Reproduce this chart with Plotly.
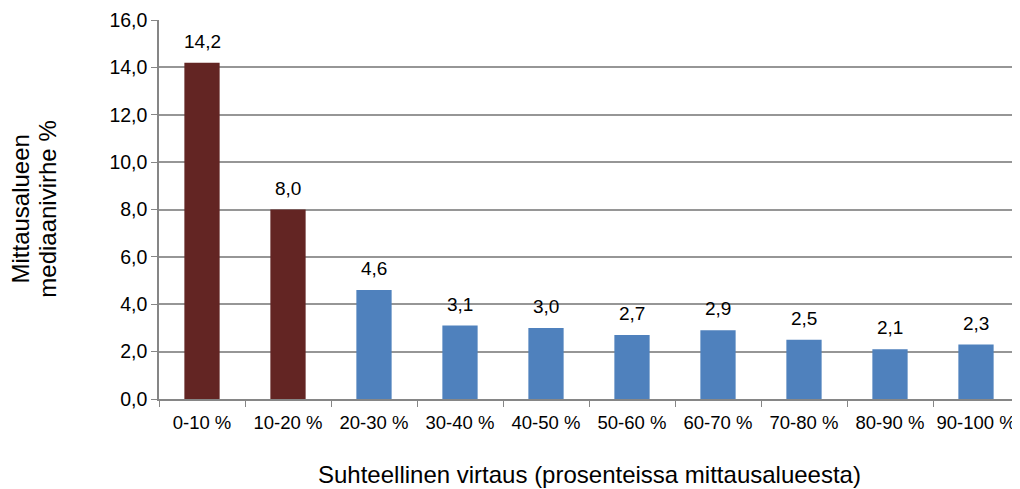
import plotly.graph_objects as go

categories = ["0-10 %", "10-20 %", "20-30 %", "30-40 %", "40-50 %",
              "50-60 %", "60-70 %", "70-80 %", "80-90 %", "90-100 %"]
values = [14.2, 8.0, 4.6, 3.1, 3.0, 2.7, 2.9, 2.5, 2.1, 2.3]
colors = ["#632523", "#632523"] + ["#4F81BD"] * 8
y_ticks = [0, 2, 4, 6, 8, 10, 12, 14, 16]

FONT = "Liberation Sans, Arial, sans-serif"

fig = go.Figure(go.Bar(
    x=categories, y=values, marker=dict(color=colors, line=dict(width=0)),
    width=0.41, hoverinfo="x+y",
))

for c, v in zip(categories, values):
    fig.add_annotation(x=c, y=v, text=f"{v:.1f}".replace(".", ","),
                       showarrow=False, yanchor="bottom", yshift=9,
                       font=dict(size=19, color="#000000", family=FONT))

fig.add_annotation(xref="paper", yref="paper", x=-0.1616, y=0.5,
                   text="Mittausalueen", textangle=-90,
                   showarrow=False, xanchor="center", yanchor="middle",
                   font=dict(size=24, color="#000000", family=FONT))
fig.add_annotation(xref="paper", yref="paper", x=-0.130, y=0.5,
                   text="mediaanivirhe %", textangle=-90,
                   showarrow=False, xanchor="center", yanchor="middle",
                   font=dict(size=24, color="#000000", family=FONT))
fig.add_annotation(xref="paper", yref="paper", x=0.5, y=-0.2005,
                   text="Suhteellinen virtaus (prosenteissa mittausalueesta)",
                   showarrow=False, xanchor="center", yanchor="middle",
                   font=dict(size=24, color="#000000", family=FONT))

# the page body adds an 8px offset, so the figure is sized 8px smaller
fig.update_layout(
    width=1012, height=481,
    margin=dict(l=151, r=1, t=12, b=90),
    paper_bgcolor="white", plot_bgcolor="white",
    separators=",.",
    showlegend=False,
    font=dict(family=FONT, size=19, color="#000000"),
    xaxis=dict(
        type="category", tickson="boundaries", ticks="outside", ticklen=6,
        tickcolor="#868686", showline=True, linecolor="#868686", linewidth=1.5,
        showgrid=False, tickfont=dict(size=18.5, family=FONT), fixedrange=True,
        ticklabelstandoff=6, automargin=False, tickangle=0,
    ),
    yaxis=dict(
        range=[0, 16], tickvals=y_ticks, tickformat=".1f",
        ticks="outside", ticklen=6, tickcolor="#868686",
        showline=True, linecolor="#868686", linewidth=1.5,
        showgrid=True, gridcolor="#969696", gridwidth=1.5,
        zeroline=False, tickfont=dict(size=19.5, family=FONT), fixedrange=True,
        automargin=False,
    ),
)

fig.write_html("out.html")
